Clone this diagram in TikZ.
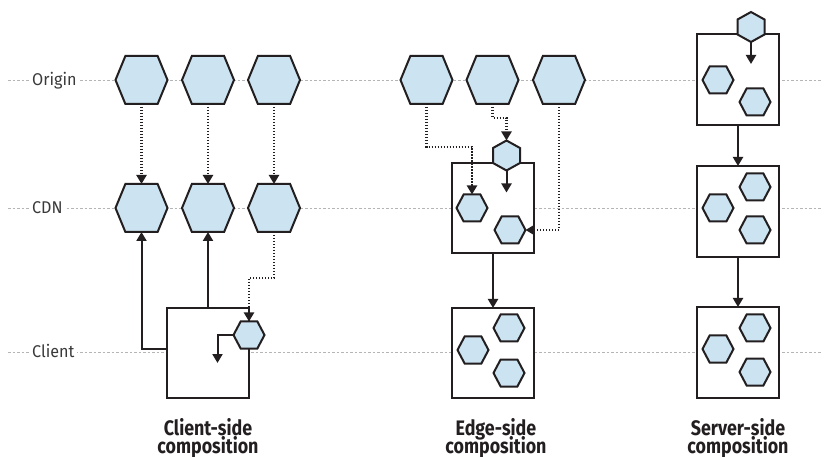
\documentclass[tikz,border=0pt]{standalone}
\usepackage{fontspec}
\setmainfont{Fira Sans}
\newfontfamily\capfont[FakeStretch=0.85]{Fira Sans}
\newfontfamily\labfont[FakeStretch=0.95]{Fira Sans}
\usetikzlibrary{arrows.meta}
\definecolor{ink}{HTML}{231F20}
\definecolor{hexblue}{HTML}{CCE3F1}
\definecolor{gridgray}{HTML}{B5B5B5}
\definecolor{labgray}{HTML}{3A3A3A}
\lineskiplimit=-50pt
\makeatletter
\newdimen\hxL \newdimen\hxR \newdimen\hxT \newdimen\hxB
\newdimen\hxM \newdimen\hxC \newdimen\hxP \newdimen\hxQ
\pgfkeys{/pgf/hexcut/.initial=0.2}
\pgfdeclareshape{hexflat}{%
  \inheritsavedanchors[from=rectangle]%
  \inheritanchorborder[from=rectangle]%
  \inheritanchor[from=rectangle]{center}%
  \inheritanchor[from=rectangle]{north}%
  \inheritanchor[from=rectangle]{south}%
  \inheritanchor[from=rectangle]{east}%
  \inheritanchor[from=rectangle]{west}%
  \backgroundpath{%
    \southwest \hxL=\pgf@x \hxB=\pgf@y
    \northeast \hxR=\pgf@x \hxT=\pgf@y
    \hxM=\hxT \advance\hxM by \hxB \hxM=.5\hxM
    \hxC=\hxR \advance\hxC by -\hxL
    \pgfmathsetmacro\hx@f{\pgfkeysvalueof{/pgf/hexcut}}%
    \hxC=\hx@f\hxC
    \hxP=\hxL \advance\hxP by \hxC
    \hxQ=\hxR \advance\hxQ by -\hxC
    \pgfpathmoveto{\pgfqpoint{\hxL}{\hxM}}%
    \pgfpathlineto{\pgfqpoint{\hxP}{\hxT}}%
    \pgfpathlineto{\pgfqpoint{\hxQ}{\hxT}}%
    \pgfpathlineto{\pgfqpoint{\hxR}{\hxM}}%
    \pgfpathlineto{\pgfqpoint{\hxQ}{\hxB}}%
    \pgfpathlineto{\pgfqpoint{\hxP}{\hxB}}%
    \pgfpathclose
  }%
}
\pgfdeclareshape{hexpoint}{%
  \inheritsavedanchors[from=rectangle]%
  \inheritanchorborder[from=rectangle]%
  \inheritanchor[from=rectangle]{center}%
  \inheritanchor[from=rectangle]{north}%
  \inheritanchor[from=rectangle]{south}%
  \inheritanchor[from=rectangle]{east}%
  \inheritanchor[from=rectangle]{west}%
  \backgroundpath{%
    \southwest \hxL=\pgf@x \hxB=\pgf@y
    \northeast \hxR=\pgf@x \hxT=\pgf@y
    \hxM=\hxL \advance\hxM by \hxR \hxM=.5\hxM
    \hxC=\hxT \advance\hxC by -\hxB
    \pgfmathsetmacro\hx@f{\pgfkeysvalueof{/pgf/hexcut}}%
    \hxC=\hx@f\hxC
    \hxP=\hxB \advance\hxP by \hxC
    \hxQ=\hxT \advance\hxQ by -\hxC
    \pgfpathmoveto{\pgfqpoint{\hxM}{\hxT}}%
    \pgfpathlineto{\pgfqpoint{\hxR}{\hxQ}}%
    \pgfpathlineto{\pgfqpoint{\hxR}{\hxP}}%
    \pgfpathlineto{\pgfqpoint{\hxM}{\hxB}}%
    \pgfpathlineto{\pgfqpoint{\hxL}{\hxP}}%
    \pgfpathlineto{\pgfqpoint{\hxL}{\hxQ}}%
    \pgfpathclose
  }%
}
\makeatother
\tikzset{
  hexbase/.style={draw=ink, fill=hexblue, line width=2pt, inner sep=0pt, outer sep=0pt, line join=miter},
  bighex/.style={hexbase, shape=hexflat, minimum width=52pt, minimum height=48pt, /pgf/hexcut=0.19},
  smallhex/.style={hexbase, shape=hexflat, minimum width=31pt, minimum height=27pt, /pgf/hexcut=0.23},
  pointhex/.style={hexbase, shape=hexpoint, minimum width=27pt, minimum height=30pt, /pgf/hexcut=0.25},
  panel/.style={draw=ink, fill=white, line width=2pt, minimum width=82pt, minimum height=90pt, inner sep=0pt, outer sep=0pt},
  arr/.style={draw=ink, line width=2pt, -{Triangle[length=9pt,width=10pt]}},
  dotarr/.style={arr, line width=2.1pt, dash pattern=on 1.5pt off 1.5pt},
  gridline/.style={draw=gridgray, line width=0.9pt, dash pattern=on 2.5pt off 2pt},
  rowlab/.style={font=\labfont\fontsize{17}{17}\selectfont, text=labgray, fill=white, inner sep=2.5pt, anchor=base west},
  caption/.style={font=\capfont\bfseries\fontsize{21}{18}\selectfont, align=center, text=ink, inner sep=0pt, anchor=north},
}
\begin{document}
\begin{tikzpicture}[x=1pt,y=-1pt]
\useasboundingbox[fill=white] (0,0) rectangle (828,457);
% row grid lines
\draw[gridline] (8,80) -- (822,80);
\draw[gridline] (8,208) -- (822,208);
\draw[gridline] (8,352) -- (822,352);
\node[rowlab] (lorigin) at (29.5,85.5) {Origin};
\node[rowlab] (lcdn) at (29.5,213.5) {CDN};
\node[rowlab] (lclient) at (29.5,357.5) {Client};

% ---------- Client-side ----------
\node[bighex] (O1) at (141.5,80) {};
\node[bighex] (O2) at (208,80) {};
\node[bighex] (O3) at (274,80) {};
\node[bighex] (C1) at (141.5,208) {};
\node[bighex] (C2) at (208,208) {};
\node[bighex] (C3) at (274,208) {};
\node[panel] (cl) at (208,353) {};
\node[smallhex] (cs) at (249,335) {};
\draw[dotarr] (O1.south) -- (C1.north);
\draw[dotarr] (O2.south) -- (C2.north);
\draw[dotarr] (O3.south) -- (C3.north);
\draw[arr] ([yshift=4pt]cl.west) -| (C1.south);
\draw[arr] (cl.north) -- (C2.south);
\draw[dotarr] (C3.south) -- ++(0,46) -| (cs.north);
\draw[arr] (cs.west) -- ++(-16,0) -- ++(0,28);
\node[caption] (cap1) at (208,418) {Client-side\\composition};

% ---------- Edge-side ----------
\node[bighex] (O4) at (426.5,80) {};
\node[bighex] (O5) at (492.5,80) {};
\node[bighex] (O6) at (559,80) {};
\node[panel] (eb1) at (493,208) {};
\node[pointhex] (et) at (506.5,155.5) {};
\node[smallhex] (e1) at (472,208) {};
\node[smallhex] (e2) at (510,230) {};
\draw[dotarr] (O4.south) -- ++(0,43) -| (e1.north);
\draw[dotarr] (O5.south) -- ++(0,14) -| (et.north);
\draw[dotarr] (O6.south) |- (e2.east);
\draw[arr] (et.south) -- ++(0,22);
\node[panel] (eb2) at (493,353) {};
\node[smallhex] (e3) at (473,350) {};
\node[smallhex] (e4) at (509,328) {};
\node[smallhex] (e5) at (509,373) {};
\draw[arr] (eb1.south) -- (eb2.north);
\node[caption] (cap2) at (496,418) {Edge-side\\composition};

% ---------- Server-side ----------
\node[panel, minimum height=91pt] (sb1) at (738,80) {};
\node[pointhex] (st) at (751,27) {};
\node[smallhex] (s1) at (718,80) {};
\node[smallhex] (s2) at (755,102) {};
\draw[arr] (st.south) -- ++(0,22);
\node[panel, minimum height=91pt] (sb2) at (738,211.5) {};
\node[smallhex] (s3) at (718,208) {};
\node[smallhex] (s4) at (755,187) {};
\node[smallhex] (s5) at (755,230) {};
\node[panel, minimum height=91pt] (sb3) at (738,352.5) {};
\node[smallhex] (s6) at (755,328) {};
\node[smallhex] (s7) at (718,349) {};
\node[smallhex] (s8) at (755,372) {};
\draw[arr] (sb1.south) -- (sb2.north);
\draw[arr] (sb2.south) -- (sb3.north);
\node[caption] (cap3) at (738,418) {Server-side\\composition};
\end{tikzpicture}
\end{document}
